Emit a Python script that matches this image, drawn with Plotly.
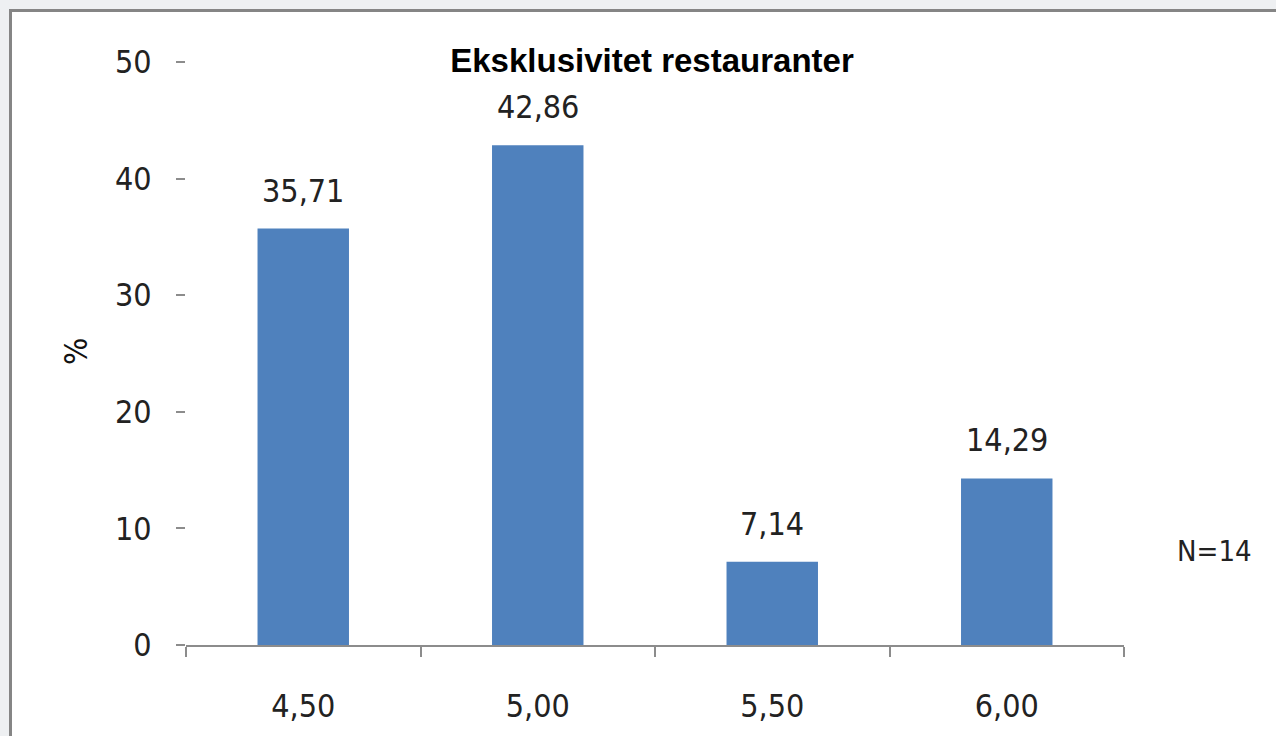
import plotly.graph_objects as go

categories = ["4,50", "5,00", "5,50", "6,00"]
values = [35.71, 42.86, 7.14, 14.29]
value_labels = ["35,71", "42,86", "7,14", "14,29"]
y_ticks = [0, 10, 20, 30, 40, 50]
title_text = "Eksklusivitet restauranter"
y_title = "%"
note_text = "N=14"

W, H = 1276, 736
L, R, T, B = 186, 1124, 62, 645  # plot area in px
pw, ph = R - L, B - T

def px_x(x):
    return (x - L) / pw

def px_y(y):
    return (B - y) / ph

narrow = "Liberation Sans Narrow, DejaVu Sans Condensed, Arial Narrow, sans-serif"
axis_grey = "#8c8c8c"

fig = go.Figure()
fig.add_trace(go.Bar(
    x=categories, y=values,
    marker=dict(color="#4f81bd", line=dict(width=0)),
    hoverinfo="skip",
))

for c, v, t in zip(categories, values, value_labels):
    fig.add_annotation(x=c, y=v, text=t, showarrow=False, yanchor="middle",
                       yshift=38, font=dict(family=narrow, size=32, color="#222222"))

fig.add_annotation(xref="paper", yref="paper", x=px_x(76), y=px_y(352), text=y_title,
                   textangle=-90, showarrow=False, xanchor="center", yanchor="middle",
                   font=dict(family=narrow, size=32, color="#111111"))
fig.add_annotation(xref="paper", yref="paper", x=px_x(1214), y=px_y(551), text=note_text,
                   showarrow=False, xanchor="center", yanchor="middle",
                   font=dict(family=narrow, size=29, color="#222222"))

# chart box (white with grey left/top border)
fig.add_shape(type="rect", xref="paper", yref="paper", layer="below",
              x0=px_x(10.5), x1=px_x(1400), y0=px_y(10.5), y1=px_y(900),
              fillcolor="white", line=dict(color="#858585", width=3))

fig.update_layout(
    width=W, height=H,
    margin=dict(l=L, r=W - R, t=T, b=H - B, pad=0),
    paper_bgcolor="#eef0f2",
    plot_bgcolor="rgba(0,0,0,0)",
    separators=",.",
    showlegend=False,
    bargap=0.61,
    title=dict(text=f"<b>{title_text}</b>", x=px_x(652), xref="paper", xanchor="center",
               y=1 - 60 / H, yref="container", yanchor="middle",
               font=dict(family="Liberation Sans, Arial, sans-serif", size=33, color="#000000")),
    xaxis=dict(
        type="category", showgrid=False, zeroline=False,
        showline=True, linecolor=axis_grey, linewidth=2,
        ticks="outside", tickson="boundaries", ticklen=10, tickwidth=2, tickcolor=axis_grey,
        tickfont=dict(family=narrow, size=32, color="#222222"),
        ticklabelstandoff=32,
    ),
    yaxis=dict(
        range=[0, 50], tickvals=y_ticks, showgrid=False, zeroline=False, showline=False,
        ticks="outside", ticklen=9, tickwidth=1.5, tickcolor=axis_grey,
        tickfont=dict(family=narrow, size=32, color="#222222"),
        ticklabelstandoff=18,
    ),
)

fig.write_html("out.html", config={"displayModeBar": False},
               post_script="document.body.style.margin='0px';")
